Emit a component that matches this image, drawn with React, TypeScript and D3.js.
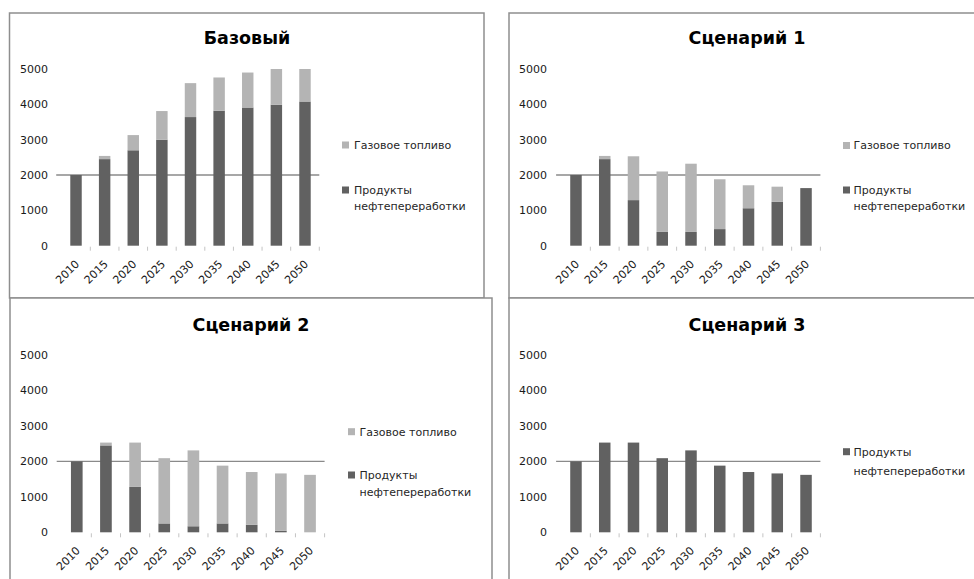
import React from 'react';
import * as d3 from 'd3';

const years = ['2010', '2015', '2020', '2025', '2030', '2035', '2040', '2045', '2050'];
const yTicks = [0, 1000, 2000, 3000, 4000, 5000];
const refLine = 2000;

const nameGas = 'Газовое топливо';
const nameOil = ['Продукты', 'нефтепереработки'];

const baseOil = [2000, 2450, 2700, 3000, 3640, 3820, 3910, 3990, 4080];
const baseGas = [0, 90, 430, 810, 960, 940, 990, 1010, 920];

const s1Oil = [2000, 2450, 1290, 390, 390, 470, 1060, 1240, 1630];
const s1Gas = [0, 90, 1240, 1710, 1930, 1410, 650, 430, 0];

const s2Oil = [2000, 2450, 1280, 250, 170, 250, 210, 40, 0];
const s2Gas = [0, 80, 1250, 1840, 2140, 1630, 1490, 1620, 1620];

const s3Oil = [2000, 2530, 2530, 2090, 2310, 1880, 1700, 1660, 1620];

const DARK = '#616161';
const LIGHT = '#b4b4b4';
const FONT = '"DejaVu Sans", sans-serif';

type Layout = {
  frame: [number, number, number, number];
  left: number; right: number; y0: number; yTop: number;
  titleX: number; titleY: number; labelX: number;
  legX: number; legText: number; gasY?: number; oilY: number; oilGap: number;
};

const layouts: Layout[] = [
  { frame: [9.5, 13, 474.5, 285], left: 61.7, right: 319.3, y0: 245.7, yTop: 69, titleX: 247, titleY: 38, labelX: 48, legX: 342, legText: 354, gasY: 145, oilY: 190, oilGap: 16.5 },
  { frame: [509, 13, 470, 285], left: 561.6, right: 820.4, y0: 245.7, yTop: 69, titleX: 747, titleY: 38, labelX: 547, legX: 843, legText: 853.5, gasY: 145.5, oilY: 190, oilGap: 16.5 },
  { frame: [10, 298, 482, 290], left: 62.2, right: 324.6, y0: 532.3, yTop: 355, titleX: 251, titleY: 325, labelX: 48, legX: 348, legText: 359.5, gasY: 431.7, oilY: 475, oilGap: 17 },
  { frame: [509, 298, 470, 290], left: 561.6, right: 820.4, y0: 532.3, yTop: 355, titleX: 747, titleY: 325, labelX: 547, legX: 843, legText: 853.5, oilY: 451.7, oilGap: 19 },
];

const panels = [
  { title: 'Базовый', oil: baseOil, gas: baseGas as number[] | null },
  { title: 'Сценарий 1', oil: s1Oil, gas: s1Gas as number[] | null },
  { title: 'Сценарий 2', oil: s2Oil, gas: s2Gas as number[] | null },
  { title: 'Сценарий 3', oil: s3Oil, gas: null as number[] | null },
];

function Panel({ title, oil, gas, L }: { title: string; oil: number[]; gas: number[] | null; L: Layout }) {
  const x = d3.scaleBand<string>().domain(years).range([L.left, L.right]).paddingInner(0.6).paddingOuter(0.3);
  const y = d3.scaleLinear().domain([0, 5000]).range([L.y0, L.yTop]);
  const step = x.step();
  const bw = x.bandwidth();
  const [fx, fy, fw, fh] = L.frame;
  return (
    <g>
      <rect x={fx} y={fy} width={fw} height={fh} fill="#fff" stroke="#8e8e8e" strokeWidth={1.5} />
      <text x={L.titleX} y={L.titleY} dy="0.36em" textAnchor="middle" fontFamily={FONT} fontWeight="bold" fontSize={17.5} fill="#000">{title}</text>
      {yTicks.map((t) => (
        <text key={t} x={L.labelX} y={y(t)} dy="0.36em" textAnchor="end" fontFamily={FONT} fontSize={11} fill="#1a1a1a">{t}</text>
      ))}
      <line x1={L.left - 5.5} x2={L.right} y1={y(refLine)} y2={y(refLine)} stroke="#8a8a8a" strokeWidth={1.3} />
      {years.map((yr, i) => {
        const bx = x(yr) as number;
        const o = oil[i];
        const g = gas ? gas[i] : 0;
        return (
          <g key={yr}>
            {o > 0 && <rect x={bx} y={y(o)} width={bw} height={y(0) - y(o)} fill={DARK} />}
            {g > 0 && <rect x={bx} y={y(o + g)} width={bw} height={y(o) - y(o + g)} fill={LIGHT} />}
          </g>
        );
      })}
      {years.map((yr, i) => {
        const bx = L.left + step * (i + 1);
        return <line key={'t' + yr} x1={bx} x2={bx} y1={L.y0 + 1} y2={L.y0 + 5} stroke="#c4c4c4" strokeWidth={1} />;
      })}
      {years.map((yr) => {
        const cx = (x(yr) as number) + bw / 2;
        return (
          <text key={'l' + yr} transform={`translate(${cx + 4},${L.y0 + 19}) rotate(-45)`} textAnchor="end" fontFamily={FONT} fontSize={11} fill="#1a1a1a">{yr}</text>
        );
      })}
      {gas && L.gasY !== undefined && (
        <g>
          <rect x={L.legX} y={L.gasY - 3.5} width={7} height={7} fill={LIGHT} />
          <text x={L.legText} y={L.gasY} dy="0.36em" fontFamily={FONT} fontSize={11} fill="#262626">{nameGas}</text>
        </g>
      )}
      <g>
        <rect x={L.legX} y={L.oilY - 3.5} width={7} height={7} fill={DARK} />
        <text x={L.legText} y={L.oilY} dy="0.36em" fontFamily={FONT} fontSize={11} fill="#262626">{nameOil[0]}</text>
        <text x={L.legText} y={L.oilY + L.oilGap} dy="0.36em" fontFamily={FONT} fontSize={11} fill="#262626">{nameOil[1]}</text>
      </g>
    </g>
  );
}

export default function App() {
  return (
    <svg width={974} height={579} style={{ position: 'absolute', left: 0, top: 0, background: '#fff' }}>
      <rect x={0} y={0} width={974} height={579} fill="#fff" />
      {panels.map((p, i) => (
        <Panel key={p.title} title={p.title} oil={p.oil} gas={p.gas} L={layouts[i]} />
      ))}
    </svg>
  );
}
